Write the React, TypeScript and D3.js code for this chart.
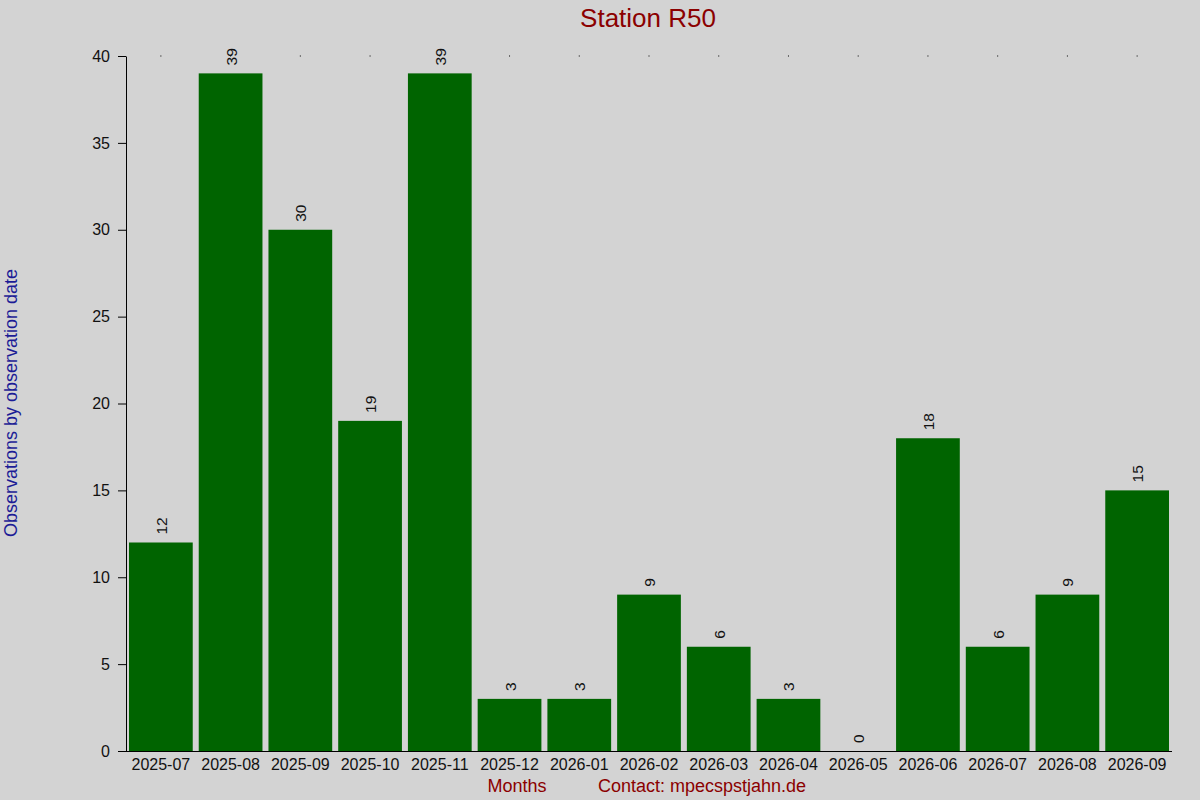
import { useEffect, useRef } from "react";
import * as d3 from "d3";

const months = [
  "2025-07", "2025-08", "2025-09", "2025-10", "2025-11", "2025-12", "2026-01", "2026-02",
  "2026-03", "2026-04", "2026-05", "2026-06", "2026-07", "2026-08", "2026-09",
];
const counts = [12, 39, 30, 19, 39, 3, 3, 9, 6, 3, 0, 18, 6, 9, 15];
const yTicks = [0, 5, 10, 15, 20, 25, 30, 35, 40];

const BG = "#d3d3d3";
const BAR = "#006400";
const RED = "#8b0000";
const BLUE = "#1c1c96";
const FONT = "'Liberation Sans', Arial, sans-serif";

export default function App() {
  const svgRef = useRef<SVGSVGElement>(null);

  useEffect(() => {
    const svg = d3.select(svgRef.current);
    svg.selectAll("*").remove();

    const width = 1200, height = 800;
    const left = 126, right = 1172, top = 56, bottom = 751;

    svg.append("rect").attr("width", width).attr("height", height).attr("fill", BG);

    const x = d3.scaleBand<string>().domain(months).range([left, right])
      .paddingInner(0.086).paddingOuter(0.043);
    const y = d3.scaleLinear().domain([0, 40]).range([bottom, top]);

    // bars
    svg.append("g").selectAll("rect").data(counts).join("rect")
      .attr("x", (_, i) => x(months[i])!)
      .attr("y", d => y(d))
      .attr("width", x.bandwidth())
      .attr("height", d => bottom - y(d))
      .attr("fill", BAR);

    // top dots at category centres
    svg.append("g").selectAll("rect").data(months).join("rect")
      .attr("x", m => x(m)! + x.bandwidth() / 2 - 0.5)
      .attr("y", top - 0.5)
      .attr("width", 1).attr("height", 1)
      .attr("fill", "#000");

    // value labels
    svg.append("g").selectAll("text").data(counts).join("text")
      .attr("transform", (d, i) =>
        `translate(${x(months[i])! + x.bandwidth() / 2 + 6},${y(d) - 8}) rotate(-90)`)
      .attr("font-family", FONT).attr("font-size", 15.5).attr("fill", "#111")
      .text(d => d);

    // y axis
    const yAxis = svg.append("g").attr("transform", `translate(${left},0)`)
      .call(d3.axisLeft(y).tickValues(yTicks).tickSize(8).tickSizeOuter(0).tickPadding(8));
    yAxis.select(".domain").attr("stroke", "#000");
    yAxis.selectAll(".tick line").attr("stroke", "#000");
    yAxis.selectAll(".tick text").attr("fill", "#111")
      .attr("font-family", FONT).attr("font-size", 16);

    // x axis
    svg.append("line")
      .attr("x1", left - 8).attr("x2", right).attr("y1", bottom + 0.5).attr("y2", bottom + 0.5)
      .attr("stroke", "#000");
    svg.append("g").selectAll("text").data(months).join("text")
      .attr("x", m => x(m)! + x.bandwidth() / 2)
      .attr("y", 770)
      .attr("text-anchor", "middle")
      .attr("font-family", FONT).attr("font-size", 16).attr("fill", "#111")
      .text(m => m);

    // title
    svg.append("text")
      .attr("x", 648).attr("y", 27).attr("text-anchor", "middle")
      .attr("font-family", FONT).attr("font-size", 26).attr("fill", RED)
      .text("Station R50");

    // y label
    svg.append("text")
      .attr("transform", "translate(17,403) rotate(-90)")
      .attr("text-anchor", "middle")
      .attr("font-family", FONT).attr("font-size", 18).attr("fill", BLUE)
      .text("Observations by observation date");

    // footer
    svg.append("text")
      .attr("x", 517).attr("y", 792).attr("text-anchor", "middle")
      .attr("font-family", FONT).attr("font-size", 18).attr("fill", RED)
      .text("Months");
    svg.append("text")
      .attr("x", 598).attr("y", 792)
      .attr("font-family", FONT).attr("font-size", 18).attr("fill", RED)
      .text("Contact: mpecspstjahn.de");
  }, []);

  return (
    <div style={{ position: "fixed", left: 0, top: 0 }}>
      <svg ref={svgRef} width={1200} height={800} style={{ display: "block" }} />
    </div>
  );
}
